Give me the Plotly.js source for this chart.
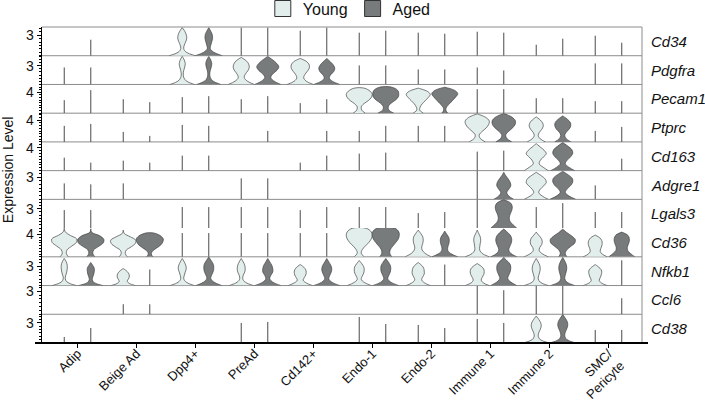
<!DOCTYPE html>
<html><head><meta charset="utf-8">
<script src="https://cdn.plot.ly/plotly-3.0.1.min.js"></script>
<style>body{margin:0;background:#fff}#chart{width:705px;height:404px}</style>
</head><body><div id="chart"></div>
<script>
// ---------- data ----------
const cellTypes = ['Adip','Beige Ad','Dpp4+','PreAd','Cd142+','Endo-1','Endo-2','Immune 1','Immune 2','SMC/<br>Pericyte'];
const genes = ['Cd34','Pdgfra','Pecam1','Ptprc','Cd163','Adgre1','Lgals3','Cd36','Nfkb1','Ccl6','Cd38'];
const axisMax = [4.2, 4.6, 5.5, 5.3, 5.0, 3.9, 4.44, 5.13, 4.44, 3.75, 4.3];
const axisTick = [3, 3, 4, 4, 4, 3, 3, 4, 3, 3, 3];
const groups = ['Young', 'Aged'];

// maximum expression per violin (0 = no cells expressing)
const youngMax = [
  [0, 0, 4.1, 4.1, 3.66, 3.37, 3.37, 3.51, 1.61, 2.93],
  [2.72, 0, 4.49, 4.33, 4.17, 3.05, 2.4, 2.72, 0, 3.37],
  [2.49, 2.68, 3.07, 2.68, 1.92, 4.79, 4.79, 4.6, 2.87, 2.3],
  [2.96, 1.85, 3.14, 0, 0, 2.03, 2.96, 5.17, 4.62, 2.03],
  [2.26, 1.74, 2.61, 0, 1.39, 2.96, 0, 3.31, 4.7, 0],
  [2.17, 2.17, 0, 2.85, 0, 0, 0, 3.85, 3.67, 1.9],
  [2.78, 0, 3.25, 3.25, 2.78, 3.25, 2.32, 4.4, 3.25, 2.48],
  [5.1, 4.77, 4.24, 4.24, 4.24, 5.1, 4.77, 4.77, 4.41, 3.88],
  [4.18, 2.63, 4.18, 4.18, 3.25, 3.87, 3.56, 3.4, 4.18, 3.25],
  [0, 1.31, 0, 0, 0, 0, 0, 3.72, 3.72, 0],
  [0.9, 0, 0, 3.0, 0, 3.9, 2.7, 3.6, 4.04, 1.95]
];
const agedMax = [
  [2.34, 0, 4.1, 4.1, 4.1, 3.66, 3.22, 3.37, 2.49, 1.9],
  [2.72, 0, 4.49, 4.49, 4.17, 3.05, 2.4, 2.24, 0, 3.37],
  [4.41, 2.11, 3.26, 3.26, 2.68, 4.98, 4.98, 4.6, 2.87, 2.3],
  [3.32, 1.11, 2.96, 2.03, 2.03, 2.96, 2.96, 5.25, 4.8, 2.77],
  [1.39, 1.39, 2.61, 0, 2.61, 3.14, 0, 3.48, 4.88, 2.09],
  [2.04, 0, 0, 2.85, 0, 0, 0, 3.67, 3.8, 0],
  [2.78, 0, 3.25, 3.25, 3.25, 3.25, 2.48, 4.4, 3.87, 2.48],
  [5.0, 4.25, 4.24, 4.24, 4.24, 5.1, 4.6, 4.95, 4.95, 4.41],
  [3.56, 2.48, 4.4, 4.18, 4.18, 4.18, 3.25, 4.33, 4.33, 3.9],
  [0, 1.31, 0, 0, 0, 0, 0, 3.14, 3.72, 2.09],
  [2.25, 0, 0, 3.15, 0, 2.85, 2.25, 3.0, 4.25, 1.95]
];

// density profiles (relative half-width, bottom -> top); null = collapsed violin (line)
const _ = null;
const youngShape = [
  [_, _, [13,4,1.5,2,3.5,4.5,4,2.5,0], _, _, _, _, _, _, _],
  [_, _, [12,4,1.5,1,1.5,2.5,3,2,0], [13,6,3,4,6.5,8,7.5,5,0], [13,6,3.5,4.5,7,9,9,6.5,0], _, _, _, _, _],
  [_, _, _, _, _, [6,2.5,2,4.5,9,12,13,11,5], [5,1.5,2,4,7,10,12,9,0], _, _, _],
  [_, _, _, _, _, _, _, [8,3,2,5,9,11.5,12,8.5,0], [9,4,2,3,5.5,7,6.5,4,0], _],
  [_, _, _, _, _, _, _, _, [12,7,3,4,7,10,8,4,0], _],
  [_, _, _, _, _, _, _, _, [12,6,2.5,4,7.5,10,9,5,0], _],
  [_, _, _, _, _, _, _, _, _, _],
  [[4,2,3,7.5,12,12.5,6,1,0], [4,2,3,8,12,12.5,7,1,0], _, _, _, [5,2,3,6,9.5,12,13,12,7], [13,7,4,3.5,4.5,5,4.5,2.5,0], [12,5,2.5,2.5,3,3.5,3,1.5,0], [12,6,3,3.5,5.5,6,5,2.5,0], [12,7,5,5.5,6.5,7,6.5,4.5,0]],
  [[12,3,1,1.5,2.5,3,3,2,0], [12,6,4,5,6,6,5,3,0], [12,4,1.5,2,3,4,3.5,2,0], [12,4,1.5,2,3.5,4,3.5,2,0], [12,6,3,4,5.5,6,5.5,3.5,0], [12,5,2,3,4.5,5,4.5,2.5,0], [12,6,3.5,4.5,6,6,5.5,3.5,0], [12,6,4,5,6.5,7,6.5,4,0], [12,4,2,2.5,3.5,4,3.5,2,0], [12,6,4,5,6,6.5,6,3.5,0]],
  [_, _, _, _, _, _, _, _, _, _],
  [_, _, _, _, _, _, _, _, [13,4,2,2.5,4,5,4.5,2.5,0], _]
];
const agedShape = [
  [_, _, [13.5,5,1.5,2,3,3.8,3.5,2,0], _, _, _, _, _, _, _],
  [_, _, [12,4,1.5,1,1.5,2.5,3,2,0], [13,6,3,5,9,11,9,5,0], [13,5.5,2.5,4,7,8,6.5,3.5,0], _, _, _, _, _],
  [_, _, _, _, _, [8,3,2.5,5,9.5,12.5,13,12,6], [3,1,2,5,8,11,13,10,0], _, _, _],
  [_, _, _, _, _, _, _, [8,3,2,5,9,11.5,11.5,8,0], [8,3.5,2,3.5,6.5,8,7.5,4.5,0], _],
  [_, _, _, _, _, _, _, _, [12,6,2.5,4.5,8,10,9,5,0], _],
  [_, _, _, _, _, _, _, [10,5,3,5,7,6.5,4.5,2,0], [13,6,2.5,4.5,8,10,9.5,5.5,0], _],
  [_, _, _, _, _, _, _, [13,9,6,5.5,6.5,8,8.5,7,0], _, _],
  [[4,2,3,8,12.5,13,9,1,0], [3,1.5,3,7,11,13,13.5,11,4], _, _, _, [6,4,4.5,7,10,12.5,13.5,13,9], [13,6,3,3,4,4.5,4,2,0], [13,7,5,6,7.5,8,7,4,0], [4,2.5,4,8,12,12.5,9,4,0], [13,9,6,5.5,6.5,7.5,7.5,6,0]],
  [[12,3.5,1.5,2,3,3.5,3.5,2,0], _, [13,5,2,3,4.5,5,4.5,2.5,0], [13,5,2,3,5,5,4,2,0], [13,5,2,3,4.5,5,4,2,0], [13,5,2,3,4.5,5,4.5,2.5,0], _, [13,7,4,5,6.5,7,6.5,3.5,0], [12,4,2,2.5,3.5,4,3.5,2,0], _],
  [_, _, _, _, _, _, _, _, _, _],
  [_, _, _, _, _, _, _, _, [13,4,2,2.5,4,5,4.5,2.5,0], _]
];

// ---------- styling ----------
const YOUNG = '#e1eeec', AGED = '#777b7b', OUT = '#444', LINE = '#4a4a4a', BORDER = '#8c8c8c';
const OFFSET = 0.225;      // dodge between groups (category units)
const WU = 1 / 59;         // profile unit -> category units
const NG = genes.length;

const traces = [];
genes.forEach((gene, g) => {
  const ya = g === 0 ? 'y' : 'y' + (g + 1);
  const lx = [], ly = [];
  [0, 1].forEach(grp => {
    const hs = grp ? agedMax[g] : youngMax[g];
    const sh = grp ? agedShape[g] : youngShape[g];
    hs.forEach((h, c) => {
      if (!h) return;
      const cx = c + (grp ? 1 : -1) * OFFSET;
      const prof = sh[c];
      if (!prof) { lx.push(cx, cx, null); ly.push(0, h, null); return; }
      const n = prof.length, xs = [], ys = [];
      for (let k = 0; k < n; k++) { xs.push(cx - prof[k] * WU); ys.push(h * k / (n - 1)); }
      for (let k = n - 1; k >= 0; k--) { xs.push(cx + prof[k] * WU); ys.push(h * k / (n - 1)); }
      traces.push({type: 'scatter', x: xs, y: ys, xaxis: 'x', yaxis: ya, mode: 'lines', fill: 'toself',
        fillcolor: grp ? AGED : YOUNG, line: {color: OUT, width: 0.7, shape: 'spline', smoothing: 1},
        hoverinfo: 'skip', showlegend: false});
    });
  });
  if (lx.length) traces.push({type: 'scatter', x: lx, y: ly, xaxis: 'x', yaxis: ya, mode: 'lines',
    line: {color: LINE, width: 1}, hoverinfo: 'skip', showlegend: false});
});
// legend entries
groups.forEach((name, i) => {
  traces.push({type: 'scatter', x: [null], y: [null], xaxis: 'x', yaxis: 'y', mode: 'markers', name: name,
    marker: {symbol: 'square', size: 16, color: i ? AGED : YOUNG, line: {color: '#333', width: 1}}, showlegend: true});
});

const layout = {
  width: 705, height: 404,
  margin: {l: 42, r: 63, t: 27, b: 61, autoexpand: false},
  paper_bgcolor: '#fff', plot_bgcolor: '#fff',
  font: {family: 'Arial, "Liberation Sans", sans-serif', color: '#111', size: 14},
  showlegend: true,
  legend: {orientation: 'h', x: 0.368, xanchor: 'left', y: 1.112, yanchor: 'top',
    font: {size: 16, color: '#111'}, itemsizing: 'trace', bgcolor: 'rgba(0,0,0,0)', traceorder: 'normal'},
  xaxis: {anchor: 'y' + NG, range: [-0.602, 9.568], tickmode: 'array', tickvals: cellTypes.map((_, i) => i),
    ticktext: cellTypes, tickangle: -45, ticks: 'outside', ticklen: 4, tickcolor: '#000',
    ticklabelstandoff: -7,
    showline: false, showgrid: false, zeroline: false, tickfont: {size: 13, color: '#111'}, fixedrange: true},
  shapes: [], annotations: []
};
genes.forEach((gene, g) => {
  const key = g === 0 ? 'yaxis' : 'yaxis' + (g + 1);
  layout[key] = {domain: [1 - (g + 1) / NG, 1 - g / NG], range: [0, axisMax[g]], anchor: 'x',
    tickmode: 'array', tickvals: [axisTick[g]], ticktext: [String(axisTick[g])],
    ticks: 'outside', ticklen: 4, tickcolor: '#000', tickwidth: 1,
    minor: {tick0: 0, dtick: 0.5, ticks: 'outside', ticklen: 2, tickcolor: '#000', tickwidth: 1},
    showline: true, linecolor: '#000', linewidth: 1.5, showgrid: false, zeroline: false,
    tickfont: {size: 14, color: '#111'}, fixedrange: true};
  if (g !== 7) layout.shapes.push({type: 'line', xref: 'paper', yref: 'paper', x0: 0, x1: 1,
    y0: 1 - g / NG, y1: 1 - g / NG, line: {color: BORDER, width: 1}, layer: 'below'});
  layout.annotations.push({xref: 'paper', yref: 'paper', x: 1 + 7 / 600, xanchor: 'left',
    y: 1 - (g + 0.5) / NG, yanchor: 'middle', text: '<i>' + gene + '</i>', showarrow: false,
    font: {size: 15, color: '#111'}});
});
layout.shapes.push({type: 'line', xref: 'paper', yref: 'paper', x0: 1, x1: 1, y0: 0, y1: 1,
  line: {color: BORDER, width: 1}});
layout.shapes.push({type: 'line', xref: 'paper', yref: 'paper', x0: -7 / 600, x1: 1 + 6 / 600, y0: 0, y1: 0,
  line: {color: '#000', width: 2}});
layout.annotations.push({xref: 'paper', yref: 'paper', x: -34 / 600, xanchor: 'center',
  y: 0.547, yanchor: 'middle', text: 'Expression Level', textangle: -90, showarrow: false,
  font: {size: 14, color: '#111'}});

Plotly.newPlot('chart', traces, layout, {displayModeBar: false, staticPlot: true});
</script>
</body></html>
